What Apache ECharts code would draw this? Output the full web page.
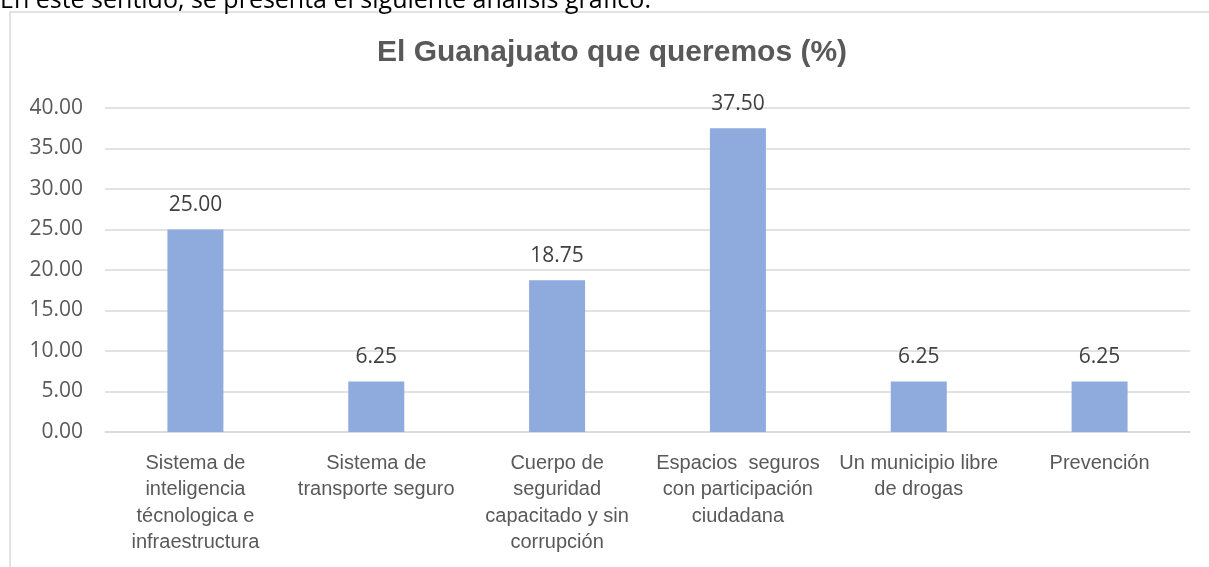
<!DOCTYPE html>
<html>
<head>
<meta charset="utf-8">
<script src="https://cdn.jsdelivr.net/npm/echarts@6/dist/echarts.min.js"></script>
<style>html,body{margin:0;padding:0;background:#fff;}#c{width:1209px;height:567px;}</style>
</head>
<body>
<div id="c"></div>
<script>
const categories = [
  "Sistema de\ninteligencia\ntécnologica e\ninfraestructura",
  "Sistema de\ntransporte seguro",
  "Cuerpo de\nseguridad\ncapacitado y sin\ncorrupción",
  "Espacios  seguros\ncon participación\nciudadana",
  "Un municipio libre\nde drogas",
  "Prevención"
];
const values = [25.00, 6.25, 18.75, 37.50, 6.25, 6.25];
const yTicks = { min: 0, max: 40, interval: 5 };
const titleText = "El Guanajuato que queremos (%)";
const introText = "En este sentido, se presenta el siguiente análisis gráfico.";

const chart = echarts.init(document.getElementById('c'), null, { renderer: 'canvas' });
chart.setOption({
  animation: false,
  backgroundColor: '#ffffff',
  title: {
    text: titleText,
    left: 377,
    top: 38,
    padding: 0,
    textStyle: { fontFamily: 'Liberation Sans', fontWeight: 'bold', fontSize: 30, color: '#595959' }
  },
  graphic: [
    {
      type: 'rect', z: -1, silent: true,
      shape: { x: 10, y: 12, width: 1400, height: 700 },
      style: { fill: 'none', stroke: '#d9d9d9', lineWidth: 1.5 }
    },
    {
      type: 'text', silent: true, x: 0, y: -12,
      style: { text: introText, fontFamily: 'Open Sans', fontSize: 25, fill: '#000000', verticalAlign: 'top' }
    }
  ],
  grid: { left: 105, right: 19, top: 108, bottom: 135, containLabel: false },
  xAxis: {
    type: 'category',
    data: categories,
    axisLine: { show: true, lineStyle: { color: '#d9d9d9', width: 1.5 } },
    axisTick: { show: false },
    axisLabel: {
      interval: 0, margin: 18, lineHeight: 26.5,
      fontFamily: 'Liberation Sans', fontSize: 20, color: '#595959', align: 'center'
    }
  },
  yAxis: {
    type: 'value',
    min: yTicks.min, max: yTicks.max, interval: yTicks.interval,
    axisLine: { show: false },
    axisTick: { show: false },
    splitLine: { lineStyle: { color: '#d9d9d9', width: 1.5 } },
    axisLabel: {
      margin: 22, fontFamily: 'Open Sans', fontSize: 21, color: '#595959',
      formatter: v => v.toFixed(2)
    }
  },
  series: [{
    type: 'bar',
    data: values,
    barWidth: 56,
    itemStyle: { color: '#8faadc' },
    label: {
      show: true, position: 'top', distance: 14,
      fontFamily: 'Open Sans', fontSize: 21, color: '#404040',
      formatter: p => p.value.toFixed(2)
    }
  }]
});
</script>
</body>
</html>
